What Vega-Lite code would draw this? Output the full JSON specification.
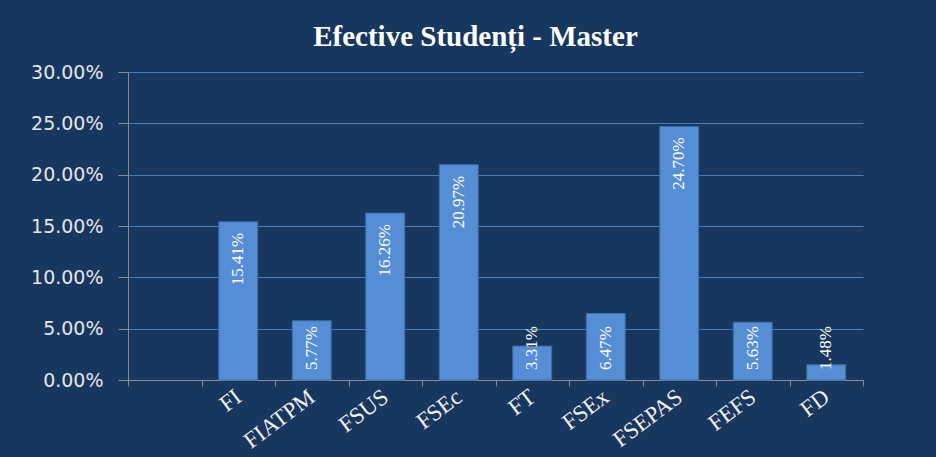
{
  "$schema": "https://vega.github.io/schema/vega-lite/v6.json",
  "width": 735,
  "height": 308,
  "autosize": {"type": "none"},
  "padding": {"left": 128, "top": 72, "right": 73, "bottom": 77},
  "background": "#17375E",
  "title": {
    "text": "Efective Studenți - Master",
    "font": "Liberation Serif",
    "fontSize": 29,
    "fontWeight": "bold",
    "color": "#FFFFFF",
    "anchor": "middle",
    "dx": -20,
    "offset": 11
  },
  "data": {
    "values": [
      {"facultate": "FI", "pondere": 0.1541},
      {"facultate": "FIATPM", "pondere": 0.0577},
      {"facultate": "FSUS", "pondere": 0.1626},
      {"facultate": "FSEc", "pondere": 0.2097},
      {"facultate": "FT", "pondere": 0.0331},
      {"facultate": "FSEx", "pondere": 0.0647},
      {"facultate": "FSEPAS", "pondere": 0.247},
      {"facultate": "FEFS", "pondere": 0.0563},
      {"facultate": "FD", "pondere": 0.0148}
    ]
  },
  "encoding": {
    "x": {
      "field": "facultate",
      "type": "nominal",
      "sort": null,
      "scale": {
        "domain": [" ", "FI", "FIATPM", "FSUS", "FSEc", "FT", "FSEx", "FSEPAS", "FEFS", "FD"],
        "paddingInner": 0,
        "paddingOuter": 0
      },
      "axis": {
        "title": null,
        "tickBand": "extent",
        "grid": false,
        "domainColor": "#8C8C8C",
        "tickColor": "#8C8C8C",
        "tickSize": 6,
        "labelAngle": -37,
        "labelAlign": "right",
        "labelBaseline": "middle",
        "labelPadding": 8,
        "labelFont": "Liberation Serif",
        "labelFontSize": 23,
        "labelColor": "#F2F2F2"
      }
    },
    "y": {
      "field": "pondere",
      "type": "quantitative",
      "scale": {"domain": [0, 0.3], "nice": false},
      "axis": {
        "title": null,
        "values": [0, 0.05, 0.1, 0.15, 0.2, 0.25, 0.3],
        "format": ".2%",
        "grid": true,
        "gridColor": "#4A7EBB",
        "gridWidth": 1,
        "domainColor": "#8C8C8C",
        "tickColor": "#8C8C8C",
        "tickSize": 10,
        "labelPadding": 15,
        "labelFont": "DejaVu Sans",
        "labelFontSize": 19,
        "labelColor": "#E6E6E6"
      }
    }
  },
  "layer": [
    {
      "mark": {"type": "bar", "color": "#558ED5", "stroke": "#3B6BA5", "strokeWidth": 1, "width": {"band": 0.53}}
    },
    {
      "transform": [{"filter": "datum.pondere >= 0.1"}],
      "mark": {
        "type": "text",
        "angle": -90,
        "align": "right",
        "baseline": "middle",
        "dx": -11,
        "font": "Liberation Serif",
        "fontSize": 17,
        "color": "#FFFFFF"
      },
      "encoding": {
        "text": {"field": "pondere", "type": "quantitative", "format": ".2%"}
      }
    },
    {
      "transform": [{"filter": "datum.pondere < 0.1"}],
      "mark": {
        "type": "text",
        "angle": -90,
        "align": "left",
        "baseline": "middle",
        "dx": 10,
        "font": "Liberation Serif",
        "fontSize": 17,
        "color": "#FFFFFF"
      },
      "encoding": {
        "y": {"datum": 0},
        "text": {"field": "pondere", "type": "quantitative", "format": ".2%"}
      }
    }
  ],
  "config": {
    "view": {"stroke": null}
  }
}
